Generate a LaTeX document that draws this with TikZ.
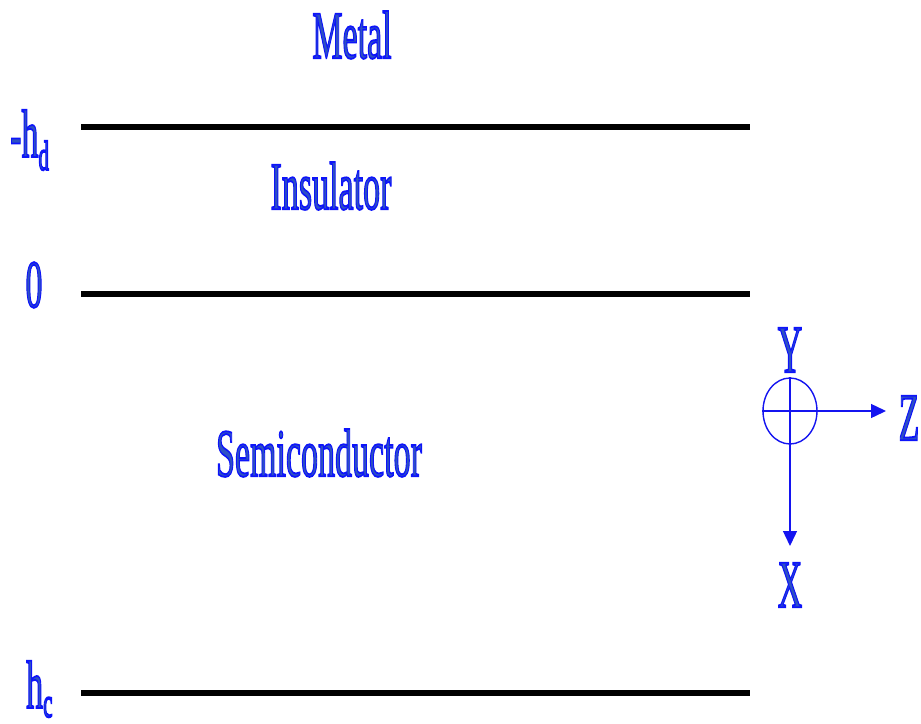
\documentclass[tikz,border=0pt]{standalone}
\usepackage{fontspec}
\setmainfont{Liberation Serif}
\usetikzlibrary{arrows.meta,shapes.geometric}
\definecolor{labelblue}{RGB}{45,80,195}
\definecolor{axisblue}{RGB}{20,20,240}
% condensed letters, filled and outlined in bright blue
\newcommand{\condtxt}[1]{%
  \special{pdf:literal direct q 2 Tr 1.8 w 0.05 0.08 0.98 RG}%
  \scalebox{0.5}[1]{#1}%
  \special{pdf:literal direct Q}}
\newcommand{\bigsize}{\fontsize{68}{68}\selectfont}
\newcommand{\subsize}{\fontsize{42}{42}\selectfont}
\tikzset{
  lbl/.style={font=\bigsize, text=labelblue, inner sep=0pt},
  layerline/.style={line width=6pt, black},
  axis/.style={draw=axisblue, line width=1.4pt, -{Triangle[length=15pt,width=14pt]}},
}
\begin{document}
\begin{tikzpicture}[x=1pt,y=-1pt]
\useasboundingbox (0,0) rectangle (921,723);

% interface lines
\coordinate (top-l) at (81,127);  \coordinate (top-r) at (750,127);
\coordinate (mid-l) at (81,294);  \coordinate (mid-r) at (750,294);
\coordinate (bot-l) at (81,693);  \coordinate (bot-r) at (750,693);
\draw[layerline] (top-l) -- (top-r);
\draw[layerline] (mid-l) -- (mid-r);
\draw[layerline] (bot-l) -- (bot-r);

% layer names
\node[lbl] (metal) at (352,35) {\condtxt{Metal}};
\node[lbl] (insulator) at (331,186) {\condtxt{Insulator}};
\node[lbl] (semi) at (319,453) {\condtxt{Semiconductor}};

% depth marks
\node[lbl, anchor=base west] (hd) at (10,157)
  {\condtxt{-h}\raisebox{-13pt}{\subsize\condtxt{d}}};
\node[lbl] (zero) at (34,285) {\condtxt{0}};
\node[lbl, anchor=base west] (hc) at (26,708)
  {\condtxt{h}\raisebox{-9pt}{\subsize\condtxt{c}}};

% coordinate system: Y points out of the page
\node[draw=axisblue, line width=1.4pt, ellipse, minimum width=54pt, minimum height=66pt, inner sep=0pt]
  (orig) at (790,411) {};
\draw[draw=axisblue, line width=1.4pt] (orig.west) -- (orig.east);
\coordinate (xtip) at (790,546);
\coordinate (ztip) at (886,411);
\draw[axis] (orig.north) -- (xtip);
\draw[axis] (orig.east) -- (ztip);
\node[lbl] (ylab) at (790,350) {\condtxt{Y}};
\node[lbl] (zlab) at (909,418) {\condtxt{Z}};
\node[lbl] (xlab) at (790,585) {\condtxt{X}};
\end{tikzpicture}
\end{document}
